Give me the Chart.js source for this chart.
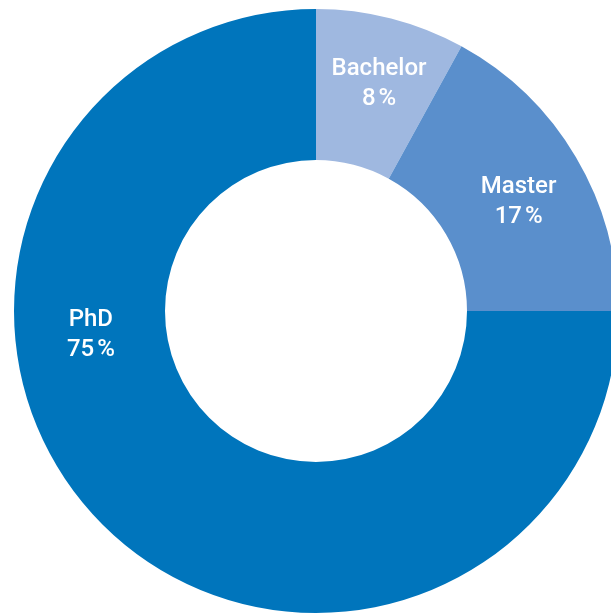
<!DOCTYPE html>
<html><head><meta charset="utf-8">
<script src="https://cdn.jsdelivr.net/npm/chart.js@4/dist/chart.umd.min.js"></script>
<style>
html,body{margin:0;padding:0;background:#fff;overflow:hidden;width:611px;height:614px;}
#wrap{position:absolute;left:0;top:0;width:632px;height:622px;}
</style></head>
<body>
<div id="wrap"><canvas id="c" width="632" height="622"></canvas></div>
<script>
const categories = ["Bachelor", "Master", "PhD"];
const shares = [8, 17, 75];
const percentLabels = ["8\u202F%", "17\u202F%", "75\u202F%"];
const colors = ["#9fb8e0", "#5a8fcc", "#0075bc"];

const labelPlugin = {
  id: 'segLabels',
  afterDatasetsDraw(chart, args, opts) {
    const ctx = chart.ctx;
    const meta = chart.getDatasetMeta(0);
    meta.data.forEach((arc, i) => {
      const p = arc.getProps(['x','y','startAngle','endAngle','outerRadius'], true);
      let ang = (p.startAngle + p.endAngle) / 2;
      if (opts.angleOverride[i] != null) ang = opts.angleOverride[i] * Math.PI / 180;
      const r = p.outerRadius * opts.radiusFrac[i];
      const cx = p.x + Math.cos(ang) * r;
      const cy = p.y + Math.sin(ang) * r + 2;
      ctx.save();
      ctx.fillStyle = '#ffffff';
      ctx.font = '500 24px Roboto';
      ctx.textAlign = 'center';
      ctx.textBaseline = 'middle';
      ctx.fillText(categories[i], cx, cy - 15);
      ctx.fillText(percentLabels[i], cx, cy + 15);
      ctx.restore();
    });
  }
};

new Chart(document.getElementById('c'), {
  type: 'doughnut',
  data: {
    labels: categories,
    datasets: [{ data: shares, backgroundColor: colors, borderWidth: 0 }]
  },
  options: {
    responsive: false,
    animation: false,
    cutout: '50%',
    layout: { padding: 9 },
    plugins: {
      legend: { display: false },
      tooltip: { enabled: false },
      segLabels: { radiusFrac: [0.786, 0.765, 0.749], angleOverride: [-74.6, -28.7, 174.4] }
    }
  },
  plugins: [labelPlugin]
});
</script>
</body></html>
